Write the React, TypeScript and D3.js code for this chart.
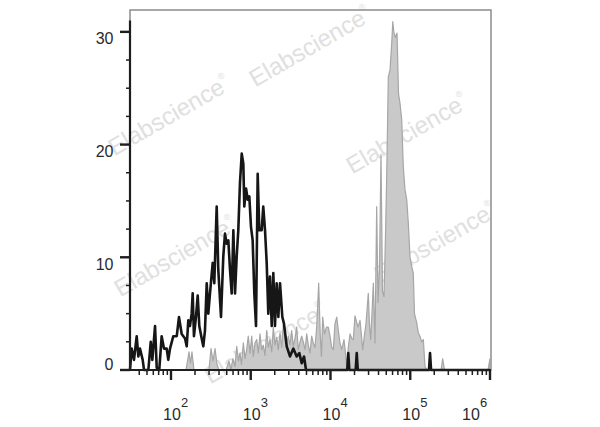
import React from "react";
import * as d3 from "d3";

const yTickValues = [0, 10, 20, 30];
const xDecades = [2, 3, 4, 5, 6];

// control (black line) histogram: log10(channel) and counts
const blackLog = [
  1.486, 1.507, 1.536, 1.57, 1.59, 1.611, 1.645, 1.662, 1.716, 1.746, 1.766, 1.8, 1.821, 1.853,
  1.883, 1.912, 1.946, 1.966, 1.988, 2.029, 2.072, 2.1, 2.134, 2.176, 2.197, 2.217, 2.238, 2.259,
  2.272, 2.288, 2.313, 2.335, 2.355, 2.385, 2.405, 2.426, 2.448, 2.468, 2.489, 2.523, 2.543, 2.573,
  2.593, 2.627, 2.656, 2.677, 2.698, 2.719, 2.74, 2.761, 2.782, 2.803, 2.824, 2.844, 2.865, 2.887,
  2.907, 2.919, 2.941, 2.962, 2.982, 3.003, 3.024, 3.045, 3.066, 3.087, 3.107, 3.137, 3.157, 3.179,
  3.2, 3.22, 3.241, 3.263, 3.283, 3.304, 3.325, 3.346, 3.367, 3.396, 3.417, 3.451, 3.492, 3.534,
  3.576, 3.609, 3.639, 3.668, 3.693, 4.21, 4.223, 4.236, 4.316, 4.329, 4.342, 5.235, 5.248, 5.261, 6.0,
];
const blackCount = [
  0, 1.9, 0.9, 3.0, 1.2, 1.9, 0.9, 0, 0, 2.5, 0.9, 3.9, 0.2, 0,
  3.0, 1.9, 1.9, 0.9, 1.9, 3.0, 3.0, 4.7, 3.2, 2.8, 2.1, 4.4, 3.9, 5.0,
  6.8, 3.0, 4.7, 6.6, 3.9, 2.8, 2.1, 3.5, 7.7, 5.0, 6.8, 9.5, 7.7, 14.5,
  8.9, 4.7, 10.1, 12.1, 11.2, 11.5, 8.9, 6.8, 12.4, 6.8, 10.1, 12.4, 16.6, 19.2,
  18.3, 14.5, 16.1, 15.1, 15.4, 12.7, 11.5, 6.8, 3.9, 17.4, 12.4, 12.4, 14.5, 12.4,
  9.5, 5.0, 8.3, 3.9, 8.6, 3.9, 7.7, 4.7, 7.7, 4.7, 4.1, 2.1, 1.2, 1.9,
  1.2, 1.5, 0.6, 1.2, 0, 0, 1.5, 0, 0, 1.5, 0, 0, 1.5, 0, 0,
];

// stained sample (grey filled) histogram
const greyLog = [
  2.188, 2.226, 2.245, 2.263, 2.288, 2.476, 2.502, 2.527, 2.552, 2.577, 2.602,
  2.69, 2.727, 2.752, 2.777, 2.803, 2.824, 2.846, 2.865, 2.884, 2.907, 2.928, 2.949, 2.969,
  2.991, 3.012, 3.032, 3.053, 3.075, 3.095, 3.116, 3.137, 3.157, 3.179, 3.2, 3.22, 3.241,
  3.263, 3.283, 3.304, 3.325, 3.345, 3.367, 3.388, 3.408, 3.429, 3.451, 3.471, 3.492, 3.513,
  3.534, 3.555, 3.576, 3.596, 3.618, 3.639, 3.659, 3.68, 3.702, 3.722, 3.743, 3.764, 3.784,
  3.806, 3.827, 3.852, 3.872, 3.887, 3.902, 3.925, 3.95, 3.972, 3.994, 4.015, 4.035, 4.056,
  4.078, 4.098, 4.119, 4.14, 4.169, 4.188, 4.203, 4.223, 4.245, 4.266, 4.286, 4.307, 4.329,
  4.345, 4.37, 4.389, 4.404, 4.424, 4.445, 4.474, 4.489, 4.504, 4.52, 4.537, 4.558, 4.579,
  4.596, 4.614, 4.633, 4.652, 4.671, 4.69, 4.705, 4.725, 4.746, 4.768, 4.781, 4.796, 4.815,
  4.834, 4.853, 4.871, 4.893, 4.913, 4.934, 4.956, 4.976, 4.997, 5.018, 5.038, 5.053, 5.081,
  5.101, 5.122, 5.143, 5.164, 5.185, 5.21, 5.386, 5.407, 5.43, 5.975, 6.0,
];
const greyCount = [
  0, 1.6, 0.6, 1.6, 0, 0, 1.9, 0.8, 1.9, 0.5, 0,
  0, 0.8, 0, 1.0, 0.3, 2.1, 0.8, 1.5, 0.5, 2.4, 1.0, 1.8, 3.0,
  1.5, 3.0, 1.2, 2.4, 2.7, 1.5, 3.2, 1.8, 2.2, 1.3, 3.5, 2.0, 2.7,
  1.6, 3.8, 2.2, 2.9, 1.8, 3.3, 2.0, 4.0, 3.5, 2.4, 3.0, 2.2, 3.5,
  2.1, 2.8, 3.8, 1.8, 2.5, 3.0, 2.5, 1.8, 3.2, 2.2, 1.5, 3.0, 2.4,
  2.0, 3.8, 7.7, 3.0, 1.2, 4.7, 3.2, 3.8, 3.8, 3.0, 2.0, 1.8, 4.1,
  4.7, 3.5, 2.4, 1.8, 2.7, 1.5, 0.3, 2.0, 3.2, 2.8, 2.7, 4.8, 4.2,
  3.8, 4.4, 3.0, 1.8, 3.0, 4.1, 6.8, 4.0, 2.7, 5.0, 7.7, 2.4, 14.5,
  6.0, 9.0, 19.1, 7.0, 6.5, 12.0, 17.2, 26.0, 26.6, 29.0, 30.9, 29.9, 29.5,
  29.9, 24.5, 23.7, 22.2, 18.0, 16.0, 15.1, 13.0, 10.0, 9.2, 8.6, 5.0, 4.2,
  3.3, 3.0, 2.5, 2.7, 0.3, 0, 0, 1.0, 0, 0, 1.0,
];

const WATERMARK = "Elabscience";

export default function App() {
  const W = 600;
  const H = 427;
  const left = 130;
  const right = 490;
  const top = 10;
  const bottom = 370;

  const x = d3.scaleLog().domain([Math.pow(10, 1.486), 1e6]).range([left, right]);
  const y = d3.scaleLinear().domain([0, 31.94]).range([bottom, top]);

  const grey = greyLog.map((l, i) => [Math.pow(10, l), greyCount[i]] as [number, number]);
  const black = blackLog.map((l, i) => [Math.pow(10, l), blackCount[i]] as [number, number]);

  const area = d3
    .area<[number, number]>()
    .x((d) => x(d[0]))
    .y0(y(0))
    .y1((d) => y(d[1]));
  const line = d3
    .line<[number, number]>()
    .x((d) => x(d[0]))
    .y((d) => y(d[1]));

  const [d0, d1] = x.domain();
  const minor: number[] = [];
  for (let e = 1; e < 6; e++) {
    for (let m = 2; m <= 9; m++) {
      const v = m * Math.pow(10, e);
      if (v >= d0 && v <= d1) minor.push(v);
    }
  }
  const yMinor: number[] = [];
  for (let v = 2.5; v <= 31; v += 2.5) if (v % 10 !== 0) yMinor.push(v);

  const marks = [
    { cx: 170, cy: 117 },
    { cx: 311, cy: 48 },
    { cx: 408, cy: 135 },
    { cx: 176, cy: 258 },
    { cx: 436, cy: 244 },
    { cx: 266, cy: 345 },
  ];

  const font = "'Liberation Sans', Arial, sans-serif";
  const axisColor = "#1e1e1e";
  const textColor = "#2a2a2a";

  return (
    <svg
      width={W}
      height={H}
      style={{ position: "absolute", left: 0, top: 0, background: "#fff" }}
      fontFamily={font}
    >
      <rect x={0} y={0} width={W} height={H} fill="#fff" />
      {/* watermarks */}
      {marks.map((m, i) => (
        <text
          key={i}
          x={m.cx}
          y={m.cy}
          transform={`rotate(-30 ${m.cx} ${m.cy})`}
          textAnchor="middle"
          dominantBaseline="middle"
          fontSize={24}
          fill="#e0e0e0"
        >
          {WATERMARK}
          <tspan fontSize={9} dy={-9}>®</tspan>
        </text>
      ))}
      {/* frame */}
      <rect
        x={left}
        y={top}
        width={right + 1 - left}
        height={bottom - top}
        fill="none"
        stroke="#8c8c8c"
        strokeWidth={1.5}
      />
      {/* grey histogram */}
      <path d={area(grey) || ""} fill="#c9c9c9" stroke="#a6a6a6" strokeWidth={1.2} strokeLinejoin="round" />
      {/* black histogram */}
      <path d={line(black) || ""} fill="none" stroke="#161616" strokeWidth={2.6} strokeLinejoin="round" />
      {/* axes */}
      <line x1={left} x2={left} y1={y(31)} y2={bottom + 1} stroke={axisColor} strokeWidth={2.2} />
      <line x1={left - 1} x2={right + 1} y1={bottom} y2={bottom} stroke={axisColor} strokeWidth={2.2} />
      {yTickValues.map((v) => (
        <line key={"yt" + v} x1={left - 10} x2={left} y1={y(v)} y2={y(v)} stroke={axisColor} strokeWidth={2.4} />
      ))}
      {yMinor.map((v) => (
        <line key={"ym" + v} x1={left - 4} x2={left} y1={y(v)} y2={y(v)} stroke={axisColor} strokeWidth={1.5} />
      ))}
      {yTickValues.map((v) => (
        <text
          key={"yl" + v}
          x={113.5}
          y={v === 0 ? y(v) : y(v) + 12.5}
          textAnchor="end"
          fontSize={16}
          fill={textColor}
        >
          {v}
        </text>
      ))}
      {xDecades.map((e) => (
        <line
          key={"xt" + e}
          x1={x(Math.pow(10, e))}
          x2={x(Math.pow(10, e))}
          y1={bottom}
          y2={bottom + 10}
          stroke={axisColor}
          strokeWidth={2.4}
        />
      ))}
      {minor.map((v) => (
        <line key={"xm" + v} x1={x(v)} x2={x(v)} y1={bottom} y2={bottom + 5} stroke={axisColor} strokeWidth={1.5} />
      ))}
      {xDecades.map((e) => {
        const tx = x(Math.pow(10, e));
        const cx = e === 6 ? tx - 19 : tx + 1;
        return (
          <g key={"xl" + e} fill={textColor}>
            <text x={cx} y={420} textAnchor="middle" fontSize={16}>
              10
            </text>
            <text x={cx + 9} y={407} textAnchor="start" fontSize={13}>
              {e}
            </text>
          </g>
        );
      })}
    </svg>
  );
}
